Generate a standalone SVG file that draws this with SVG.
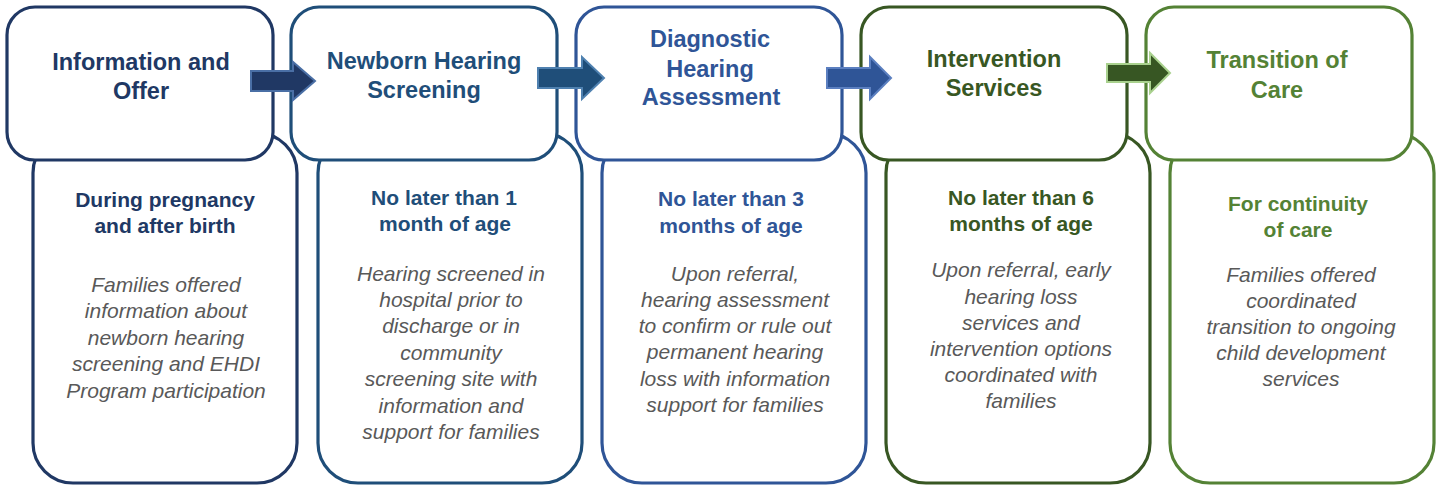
<svg xmlns="http://www.w3.org/2000/svg" width="1440" height="485" viewBox="0 0 1440 485">
<style>
  .top { fill: #ffffff; stroke-width: 3.2; }
  .bot { fill: #ffffff; stroke-width: 3.2; }
  .title { font-family: "Liberation Sans", Arial, sans-serif; font-weight: bold; font-size: 23.5px; text-anchor: middle; }
  .sub { font-family: "Liberation Sans", Arial, sans-serif; font-weight: bold; font-size: 21px; text-anchor: middle; }
  .body { font-family: "Liberation Sans", Arial, sans-serif; font-style: italic; font-size: 21px; text-anchor: middle; fill: #595959; }
  .c1 { stroke: #203864; } .t1 { fill: #203864; }
  .c2 { stroke: #1f4e79; } .t2 { fill: #1f4e79; }
  .c3 { stroke: #2f5597; } .t3 { fill: #2f5597; }
  .c4 { stroke: #385723; } .t4 { fill: #385723; }
  .c5 { stroke: #548235; } .t5 { fill: #548235; }
  .arrow { stroke-width: 2; stroke-linejoin: miter; }
</style>

<g id="node-information">
  <rect class="bot c1" x="33" y="133" width="264" height="350" rx="40"/>
  <rect class="top c1" x="7" y="7" width="266" height="153" rx="28"/>
  <text class="title t1" x="141" y="70">Information and</text>
  <text class="title t1" x="141" y="99">Offer</text>
  <text class="sub t1" x="165" y="207">During pregnancy</text>
  <text class="sub t1" x="165" y="233">and after birth</text>
  <text class="body" x="166" y="292">Families offered</text>
  <text class="body" x="166" y="318">information about</text>
  <text class="body" x="166" y="345">newborn hearing</text>
  <text class="body" x="166" y="371">screening and EHDI</text>
  <text class="body" x="166" y="398">Program participation</text>
</g>

<g id="node-screening">
  <rect class="bot c2" x="318" y="133" width="264" height="350" rx="40"/>
  <rect class="top c2" x="291" y="7" width="266" height="153" rx="28"/>
  <text class="title t2" x="424" y="69">Newborn Hearing</text>
  <text class="title t2" x="424" y="98">Screening</text>
  <text class="sub t2" x="444" y="205">No later than 1</text>
  <text class="sub t2" x="445" y="231">month of age</text>
  <text class="body" x="451" y="281">Hearing screened in</text>
  <text class="body" x="451" y="307">hospital prior to</text>
  <text class="body" x="451" y="333">discharge or in</text>
  <text class="body" x="451" y="360">community</text>
  <text class="body" x="451" y="386">screening site with</text>
  <text class="body" x="451" y="413">information and</text>
  <text class="body" x="451" y="439">support for families</text>
</g>

<g id="node-diagnostic">
  <rect class="bot c3" x="602" y="133" width="264" height="350" rx="40"/>
  <rect class="top c3" x="576" y="7" width="266" height="153" rx="28"/>
  <text class="title t3" x="710" y="47">Diagnostic</text>
  <text class="title t3" x="710" y="77">Hearing</text>
  <text class="title t3" x="711" y="105">Assessment</text>
  <text class="sub t3" x="731" y="206">No later than 3</text>
  <text class="sub t3" x="731" y="233">months of age</text>
  <text class="body" x="735" y="281">Upon referral,</text>
  <text class="body" x="735" y="307">hearing assessment</text>
  <text class="body" x="735" y="333">to confirm or rule out</text>
  <text class="body" x="735" y="359">permanent hearing</text>
  <text class="body" x="735" y="386">loss with information</text>
  <text class="body" x="735" y="412">support for families</text>
</g>

<g id="node-intervention">
  <rect class="bot c4" x="886" y="133" width="264" height="350" rx="40"/>
  <rect class="top c4" x="861" y="7" width="266" height="153" rx="28"/>
  <text class="title t4" x="994" y="67">Intervention</text>
  <text class="title t4" x="994" y="96">Services</text>
  <text class="sub t4" x="1021" y="205">No later than 6</text>
  <text class="sub t4" x="1021" y="231">months of age</text>
  <text class="body" x="1021" y="277">Upon referral, early</text>
  <text class="body" x="1021" y="304">hearing loss</text>
  <text class="body" x="1021" y="330">services and</text>
  <text class="body" x="1021" y="356">intervention options</text>
  <text class="body" x="1021" y="382">coordinated with</text>
  <text class="body" x="1021" y="408">families</text>
</g>

<g id="node-transition">
  <rect class="bot c5" x="1170" y="133" width="264" height="350" rx="40"/>
  <rect class="top c5" x="1146" y="7" width="266" height="153" rx="28"/>
  <text class="title t5" x="1277" y="68">Transition of</text>
  <text class="title t5" x="1277" y="98">Care</text>
  <text class="sub t5" x="1298" y="211">For continuity</text>
  <text class="sub t5" x="1298" y="237">of care</text>
  <text class="body" x="1301" y="282">Families offered</text>
  <text class="body" x="1301" y="308">coordinated</text>
  <text class="body" x="1301" y="334">transition to ongoing</text>
  <text class="body" x="1301" y="360">child development</text>
  <text class="body" x="1301" y="386">services</text>
</g>

<g id="connectors">
  <path class="arrow" fill="#203864" stroke="#4a6fa5" d="M251,71 H293 V62 L315,81 L293,100 V91 H251 Z"/>
  <path class="arrow" fill="#1f4e79" stroke="#4f81b0" d="M538,68 H582 V57 L604,78 L582,99 V88 H538 Z"/>
  <path class="arrow" fill="#2f5597" stroke="#5b7fc0" d="M827,68 H870 V57 L891,78 L870,99 V88 H827 Z"/>
  <path class="arrow" fill="#375623" stroke="#a9d18e" stroke-width="2.5" d="M1107,64 H1150 V53 L1170,73 L1150,93 V82 H1107 Z"/>
</g>
</svg>
